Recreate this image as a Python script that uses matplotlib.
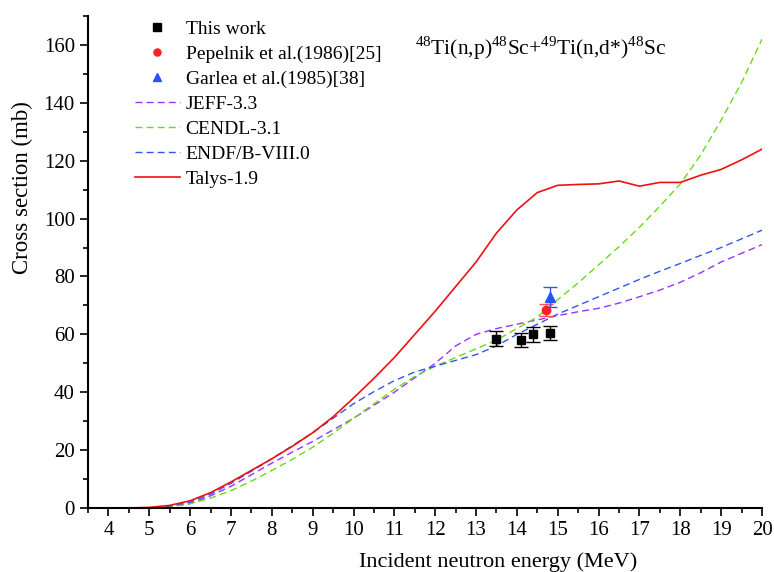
import matplotlib
matplotlib.use("Agg")
import matplotlib.pyplot as plt
from matplotlib.ticker import MultipleLocator

plt.rcParams['font.family'] = ['Liberation Serif', 'DejaVu Serif']
plt.rcParams['mathtext.fontset'] = 'custom'
plt.rcParams['mathtext.rm'] = 'Liberation Serif'

# Experimental data
this_x = [13.5, 14.1, 14.4, 14.8]
this_y = [58.5, 58.0, 60.0, 60.5]
this_err = [2.5, 2.5, 2.5, 2.5]
pep_x = [14.7]
pep_y = [68.5]
pep_err = [2.0]
gar_x = [14.8]
gar_y = [73.0]
gar_err = [3.5]

# Evaluated data / model
talys_x = [3.5, 4, 4.5, 5, 5.5, 6, 6.5, 7, 7.5, 8, 8.5, 9, 9.5, 10, 10.5, 11, 11.5, 12, 12.5, 13, 13.5, 14, 14.5, 15, 15.5, 16, 16.5, 17, 17.5, 18, 18.5, 19, 19.5, 20]
talys_y = [0, 0, 0, 0.2, 0.9, 2.5, 5.3, 9.0, 13.0, 17.0, 21.3, 26.0, 31.5, 38.0, 44.8, 52.0, 60.0, 68.0, 76.5, 85.0, 95.0, 103.0, 109.0, 111.5, 111.8, 112.0, 113.0, 111.2, 112.5, 112.5, 115.0, 117.0, 120.3, 124.0]

cendl_x = [3.5, 4, 4.5, 5, 5.5, 6, 6.5, 7, 7.5, 8, 8.5, 9, 9.5, 10, 10.5, 11, 11.5, 12, 12.5, 13, 13.5, 14, 14.5, 15, 15.5, 16, 16.5, 17, 17.5, 18, 18.5, 19, 19.5, 20]
cendl_y = [0, 0, 0, 0, 0.4, 1.5, 3.4, 6.0, 9.3, 13.0, 16.8, 21.0, 25.8, 31.0, 36.0, 41.0, 45.5, 49.0, 52.0, 55.0, 58.0, 62.0, 66.0, 72.0, 77.8, 84.0, 90.3, 97.0, 104.3, 112.0, 122.0, 134.0, 147.0, 162.0]

endf_x = [3.5, 4, 4.5, 5, 5.5, 6, 6.5, 7, 7.5, 8, 8.5, 9, 9.5, 10, 10.5, 11, 11.5, 12, 12.5, 13, 13.5, 14, 14.5, 15, 15.5, 16, 16.5, 17, 17.5, 18, 18.5, 19, 19.5, 20]
endf_y = [0, 0, 0, 0, 0.7, 2.0, 4.8, 8.5, 12.7, 17.0, 21.5, 26.0, 31.0, 36.0, 40.2, 44.0, 47.0, 49.0, 51.0, 53.0, 56.0, 60.0, 63.5, 67.0, 70.0, 73.0, 76.0, 79.0, 81.8, 84.5, 87.3, 90.0, 93.0, 96.0]

jeff_x = [3.5, 4, 4.5, 5, 5.5, 6, 6.5, 7, 7.5, 8, 8.5, 9, 9.5, 10, 10.5, 11, 11.5, 12, 12.5, 13, 13.5, 14, 14.5, 15, 15.5, 16, 16.5, 17, 17.5, 18, 18.5, 19, 19.5, 20]
jeff_y = [0, 0, 0, 0, 0.5, 1.5, 4.2, 7.5, 11.5, 15.5, 19.3, 23.0, 27.0, 31.0, 35.5, 40.0, 45.0, 50.0, 56.0, 60.0, 62.0, 63.5, 65.0, 66.5, 67.8, 69.0, 70.8, 73.0, 75.3, 78.0, 81.3, 85.0, 88.0, 91.0]

title_text = r"$^{48}$Ti(n,p)$^{48}$Sc+$^{49}$Ti(n,d*)$^{48}$Sc"

fig = plt.figure(figsize=(7.74, 5.72), dpi=100)
ax = fig.add_axes([0.1137, 0.1119, 0.8708, 0.8601])

dash = (0, (5, 3))
ax.plot(jeff_x, jeff_y, color='#9933ff', lw=1.0, linestyle=dash, label='JEFF-3.3', zorder=2)
ax.plot(cendl_x, cendl_y, color='#66dd11', lw=1.0, linestyle=dash, label='CENDL-3.1', zorder=2)
ax.plot(endf_x, endf_y, color='#3355ee', lw=1.0, linestyle=dash, label='ENDF/B-VIII.0', zorder=2)
ax.plot(talys_x, talys_y, color='#ee1111', lw=1.2, linestyle='-', label='Talys-1.9', zorder=2)

ax.errorbar(this_x, this_y, yerr=this_err, fmt='none', ecolor='black', capsize=5, elinewidth=1, zorder=3)
ax.errorbar(pep_x, pep_y, yerr=pep_err, fmt='none', ecolor='#ff5555', capsize=5, elinewidth=1, zorder=3)
ax.errorbar(gar_x, gar_y, yerr=gar_err, fmt='none', ecolor='#3355ee', capsize=5, elinewidth=1, zorder=3)
ax.plot(this_x, this_y, 's', color='black', ms=6, linestyle='none', label='This work', zorder=4)
ax.plot(pep_x, pep_y, 'o', color='#ff2222', ms=6, linestyle='none', label='Pepelnik et al.(1986)[25]', zorder=4)
ax.plot(gar_x, gar_y, '^', color='#2255ff', ms=7, linestyle='none', label='Garlea et al.(1985)[38]', zorder=4)

handles, labels = ax.get_legend_handles_labels()
order = [4, 5, 6, 0, 1, 2, 3]
leg = ax.legend([handles[i] for i in order], [labels[i] for i in order], loc='upper left',
                bbox_to_anchor=(0.0697, 0.992), frameon=False, fontsize=14, handlelength=2.3,
                labelspacing=0.38, handletextpad=0.3, borderaxespad=0, borderpad=0,
                markerscale=0.85)

ax.text(0.485, 0.935, title_text, transform=ax.transAxes, fontsize=15.5, ha='left', va='center')

ax.set_xlim(3.5, 20)
ax.set_ylim(0, 170)
ax.xaxis.set_major_locator(MultipleLocator(1))
ax.xaxis.set_minor_locator(MultipleLocator(0.5))
ax.yaxis.set_major_locator(MultipleLocator(20))
ax.yaxis.set_minor_locator(MultipleLocator(10))
ax.tick_params(axis='both', which='major', direction='out', length=6, width=1.2, labelsize=15)
ax.tick_params(axis='both', which='minor', direction='out', length=3.5, width=1.2)
ax.spines['top'].set_visible(False)
ax.spines['right'].set_visible(False)
ax.spines['left'].set_linewidth(1.5)
ax.spines['bottom'].set_linewidth(1.5)
ax.set_xlabel('Incident neutron energy (MeV)', fontsize=16)
ax.set_ylabel('Cross section (mb)', fontsize=16.5)
ax.xaxis.set_label_coords(0.608, -0.09)
ax.yaxis.set_label_coords(-0.082, 0.652)

fig.savefig('out.png', dpi=100)
